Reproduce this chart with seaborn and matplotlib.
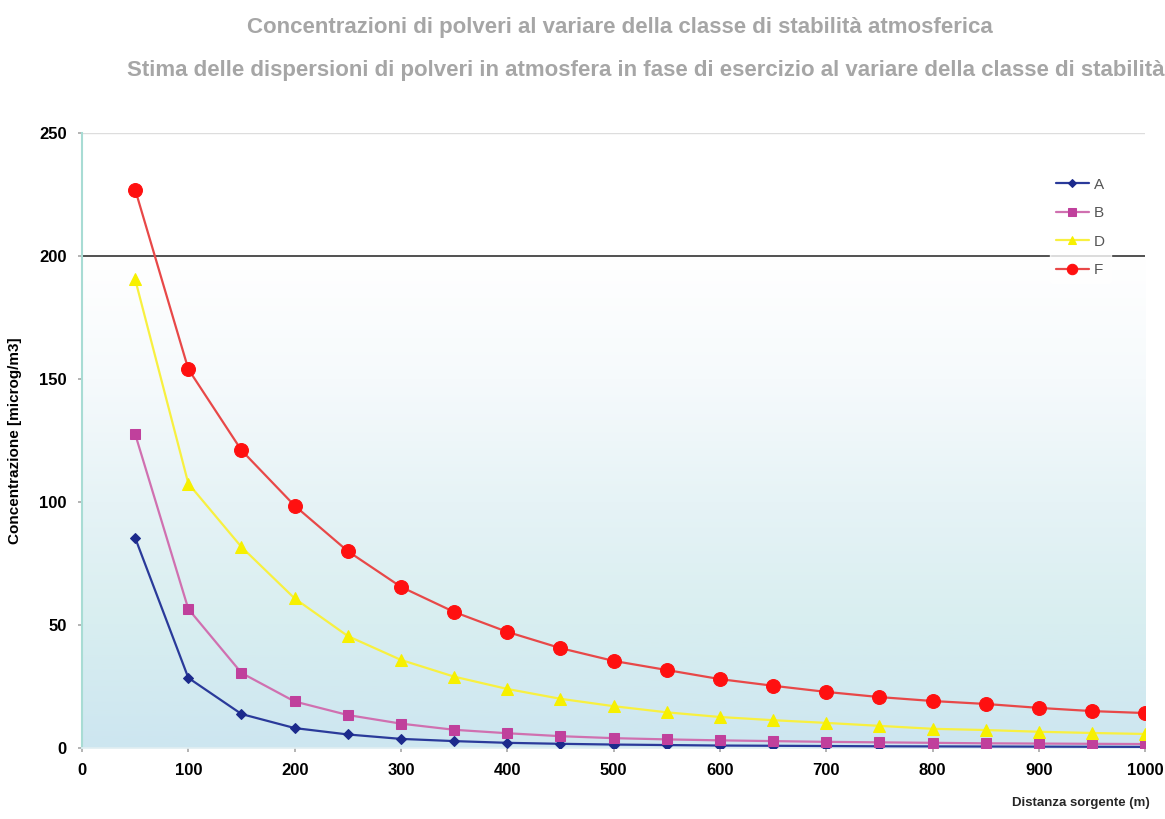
import matplotlib
matplotlib.use("Agg")
import matplotlib.pyplot as plt
import seaborn as sns
import pandas as pd
import numpy as np

distanza = [50, 100, 150, 200, 250, 300, 350, 400, 450, 500,
            550, 600, 650, 700, 750, 800, 850, 900, 950, 1000]
conc_A = [85.4, 28.5, 13.8, 8.1, 5.5, 3.7, 2.8, 2.1, 1.7, 1.4,
          1.2, 1.0, 0.9, 0.8, 0.7, 0.65, 0.6, 0.55, 0.5, 0.45]
conc_B = [127.6, 56.5, 30.5, 18.9, 13.4, 9.9, 7.4, 6.0, 4.8, 4.0,
          3.5, 3.1, 2.8, 2.5, 2.3, 2.1, 1.9, 1.8, 1.7, 1.6]
conc_D = [190.5, 107.5, 81.7, 60.8, 45.5, 35.8, 29.0, 24.0, 20.0, 17.0,
          14.5, 12.6, 11.3, 10.2, 9.0, 7.8, 7.3, 6.6, 6.1, 5.7]
conc_F = [227, 154, 121, 98.5, 80, 65.5, 55.3, 47.2, 40.6, 35.4,
          31.7, 28.0, 25.3, 22.8, 20.7, 19.1, 17.9, 16.3, 15.0, 14.2]
classi = ["A", "B", "D", "F"]
limite = 200

df = pd.DataFrame({
    "distanza": distanza * 4,
    "conc": conc_A + conc_B + conc_D + conc_F,
    "classe": sum([[c] * len(distanza) for c in classi], []),
})

sns.set_theme(style="white")
plt.rcParams["font.family"] = ["Liberation Sans", "DejaVu Sans"]

fig = plt.figure(figsize=(11.65, 8.19), dpi=100)
ax = fig.add_axes([0.0704, 0.0867, 0.9126, 0.7509])

# sfondo sfumato bianco -> azzurro
grad = np.linspace(0, 1, 256).reshape(-1, 1)
cmap = matplotlib.colors.LinearSegmentedColormap.from_list(
    "bg", ["#cde6f0", "#d8eef0", "#e6f3f6", "#f6fafc", "#ffffff", "#ffffff"])
ax.imshow(grad, extent=[0, 1000, 0, 250], aspect="auto", origin="lower",
          cmap=cmap, zorder=0)

palette = {"A": "#1c2a8c", "B": "#c0409c", "D": "#f7f000", "F": "#ff1010"}
line_cols = {"A": "#2a3a9a", "B": "#d070b0", "D": "#f8f040", "F": "#e84848"}
markers = {"A": "D", "B": "s", "D": "^", "F": "o"}
msize = {"A": 5, "B": 7, "D": 8, "F": 10}

for c in classi:
    sub = df[df["classe"] == c]
    sns.lineplot(data=sub, x="distanza", y="conc", ax=ax, color=line_cols[c],
                 lw=1.6, marker=markers[c], markersize=msize[c],
                 markerfacecolor=palette[c], markeredgecolor=palette[c],
                 label=c, zorder=3)

ax.axhline(limite, color="#333333", lw=1.2, zorder=2)
ax.axhline(250, color="#dddddd", lw=1.0, zorder=2)

ax.set_xlim(0, 1000)
ax.set_ylim(0, 250)
ax.set_xticks(range(0, 1001, 100))
ax.set_yticks(range(0, 251, 50))
ax.tick_params(axis="both", labelsize=12, length=3, color="#aaaaaa",
               labelcolor="black", direction="out", bottom=True, left=True,
               pad=8)
for lab in ax.get_xticklabels() + ax.get_yticklabels():
    lab.set_fontweight("bold")

for s in ["top", "right"]:
    ax.spines[s].set_visible(False)
ax.spines["left"].set_color("#a8dcd4")
ax.spines["left"].set_linewidth(1.5)
ax.spines["bottom"].set_color("#e0eef2")

ax.set_xlabel("")
ax.set_ylabel("Concentrazione [microg/m3]", fontsize=11, fontweight="bold",
              labelpad=12, color="black")
fig.text(0.987, 0.012, "Distanza sorgente (m)", ha="right", va="bottom",
         fontsize=9.5, fontweight="bold")

leg = ax.legend(loc="upper right", bbox_to_anchor=(0.975, 0.95), frameon=True,
                fontsize=11, handlelength=2.2, labelspacing=0.95,
                borderpad=0.4, handletextpad=0.3, markerscale=0.75)
leg.get_frame().set_facecolor("white")
leg.get_frame().set_edgecolor("white")
for t in leg.get_texts():
    t.set_color("#555555")

titolo_font = ["Liberation Sans Narrow", "Liberation Sans", "DejaVu Sans"]
fig.text(0.532, 0.967, "Concentrazioni di polveri al variare della classe di stabilità atmosferica",
         ha="center", va="center", fontsize=16, fontweight="bold",
         color="#a6a6a6", family=titolo_font)
fig.text(0.554, 0.914, "Stima delle dispersioni di polveri in atmosfera in fase di esercizio al variare della classe di stabilità",
         ha="center", va="center", fontsize=16, fontweight="bold",
         color="#a6a6a6", family=titolo_font)

fig.savefig("out.png", dpi=100)
